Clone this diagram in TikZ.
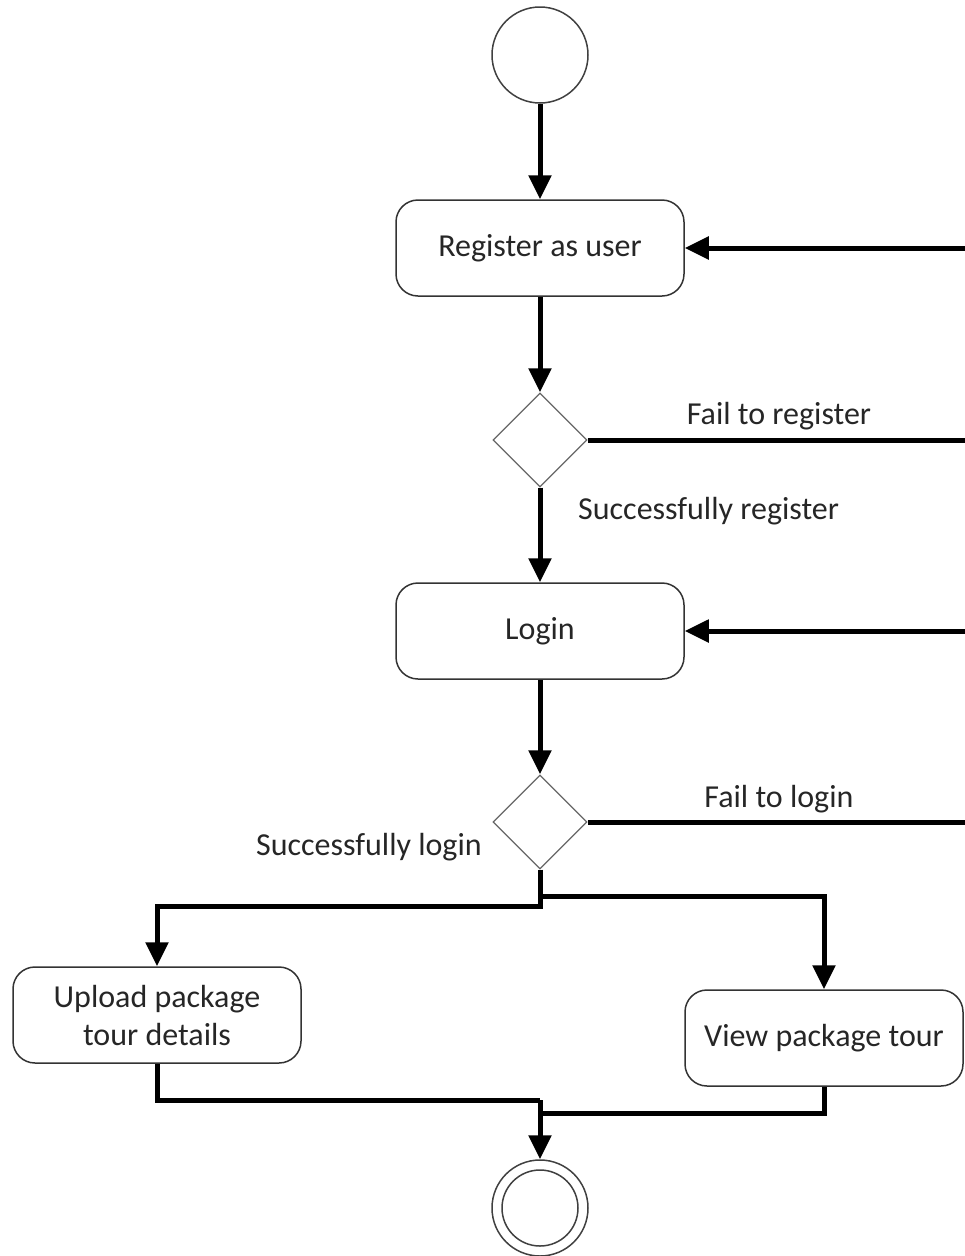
\documentclass[tikz,border=0pt]{standalone}
\usepackage{fontspec}
\setmainfont{Carlito}
\usetikzlibrary{arrows.meta,shapes.geometric}
\newcommand{\labelfont}{\fontsize{32}{38}\selectfont}
\tikzset{
  action/.style={draw=black!80,line width=1.5pt,rounded corners=22pt,
    minimum width=288pt,minimum height=96pt,align=center,
    text=black!85,font=\labelfont},
  decision/.style={diamond,draw=black!60,line width=1.3pt,aspect=1,
    minimum width=94pt,minimum height=94pt,inner sep=0pt},
  startnode/.style={circle,draw=black!75,line width=1.5pt,
    minimum size=96pt,inner sep=0pt},
  flowarrow/.style={line width=5pt,-{Triangle[length=24pt,width=22pt]}},
  flowline/.style={line width=5pt},
  guard/.style={inner sep=0pt,text=black!85,font=\labelfont}
}

\begin{document}
\begin{tikzpicture}
    [x=1pt,y=-1pt]
    \useasboundingbox (0,0) rectangle (965,1256);
    % nodes
    \node[startnode] (start) at (540,55) {};
    \node[action] (register) at (540,248) {Register as user};
    \node[decision] (chk1) at (540,440) {};
    \node[action] (login) at (540,631) {Login};
    \node[decision] (chk2) at (540,822) {};
    \node[action] (upload) at (157,1015) {Upload package\\tour details};
    \node[action,minimum width=278pt] (view) at (824,1038) {View package tour};
    \node[startnode] (final) at (540,1208) {};
    \draw[draw=black!75,line width=1.5pt] (final.center) circle (38pt);
    % guards
    \node[guard] (failreg) at (779,416) {Fail to register};
    \node[guard,anchor=west] (okreg) at (578,511) {Successfully register};
    \node[guard] (faillog) at (779,799) {Fail to login};
    \node[guard,anchor=east] (oklog) at (482,847) {Successfully login};
    % bends
    \coordinate (loopA) at (967,440);
    \coordinate (loopB) at (967,822);
    \coordinate (forkL) at (540,906);
    \coordinate (forkR) at (540,896);
    \coordinate (joinL) at (540,1100);
    \coordinate (joinR) at (540,1113);
    % flows
    \draw[flowarrow] (start) -- (register);
    \draw[flowarrow] (register) -- (chk1);
    \draw[flowarrow] (chk1) -- (login);
    \draw[flowarrow] (login) -- (chk2);
    \draw[flowarrow] (chk1.east) -- (loopA) |- (register.east);
    \draw[flowarrow] (chk2.east) -- (loopB) |- (login.east);
    \draw[flowarrow] (chk2.south) -- (forkL) -| (upload.north);
    \draw[flowarrow] (forkR) -| (view.north);
    \draw[flowline] (upload.south) |- (joinL);
    \draw[flowline] (view.south) |- (joinR);
    \draw[flowarrow] (joinL) -- (final);
\end{tikzpicture}
\end{document}
